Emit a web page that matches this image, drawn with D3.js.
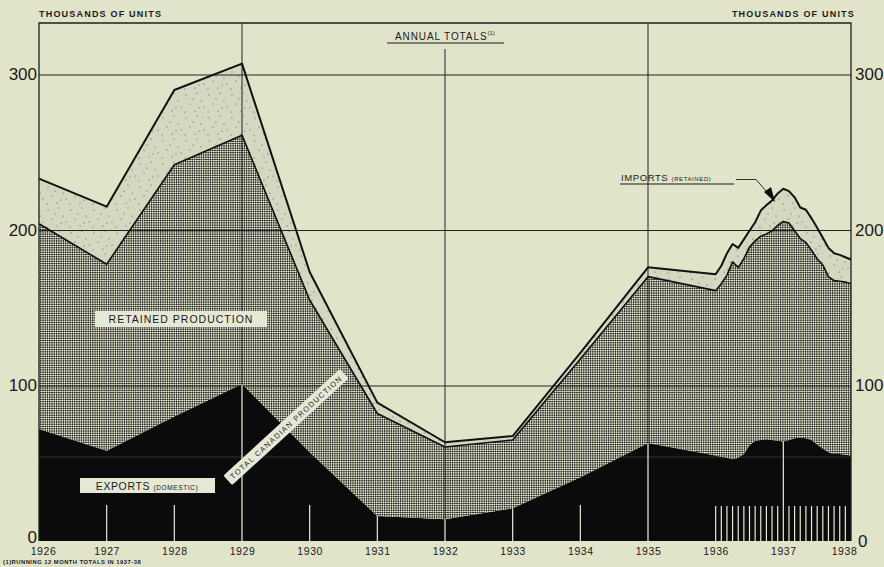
<!DOCTYPE html>
<html>
<head>
<meta charset="utf-8">
<script src="https://cdn.jsdelivr.net/npm/d3@7"></script>
<style>
  body { margin: 0; background: #e2e4c9; }
  svg { display: block; font-family: "Liberation Sans", Arial, sans-serif; }
</style>
</head>
<body>
<svg id="chart" width="884" height="567"></svg>
<script>
// annual totals 1926-1935 (thousands of units)
const annualYears = [1926, 1927, 1928, 1929, 1930, 1931, 1932, 1933, 1934, 1935];
const annualExports = [72, 58, 80, 101, 57, 16, 14, 21, 41, 63];
const annualRetained = [132, 120, 162, 160, 98, 66, 46.5, 44, 76, 107];
const annualImports = [29, 37, 48, 46, 18, 7, 3, 2.5, 4, 6];

// running 12 month totals, Jan 1936 - Jan 1938
const monthlyExports = [55, 54, 53.5, 52.5, 53.5, 56, 61.5, 64.5, 65, 65.5, 65, 64.5, 64,
  65, 66, 66.5, 66, 65, 62, 59.5, 57, 56, 56, 55.5, 55];
const monthlyRetained = [106, 111.5, 117.5, 127, 122.5, 125.5, 127.5, 128.5, 131, 132, 134.5, 138.5, 141.5,
  139.5, 133.5, 128, 126, 122, 119.5, 118, 113, 111.5, 111, 111, 110.5];
const monthlyImports = [10.5, 11.5, 14, 11.5, 12.5, 12.5, 10.5, 12, 16.5, 18.5, 19.5, 20.5, 21,
  20.5, 21.5, 20, 21, 20.5, 20, 17.5, 18.5, 17.5, 17, 16, 15.5];

const yearTicks = d3.range(1926, 1939);
const valueTicks = [0, 100, 200, 300];

const monthlyDates = monthlyExports.map((_, i) => 1936 + i / 12);

const rows = annualYears.map((yr, i) => ({
  date: yr, exports: annualExports[i], retained: annualRetained[i], imports: annualImports[i]
})).concat(monthlyDates.map((dt, i) => ({
  date: dt, exports: monthlyExports[i], retained: monthlyRetained[i], imports: monthlyImports[i]
})));

const keys = ["exports", "retained", "imports"];
const stacked = d3.stack().keys(keys)(rows);

const x = d3.scaleLinear().domain([1926, 1938]).range([39, 851]);
const y = d3.scaleLinear().domain([0, 300]).range([541, 74.5]);

const svg = d3.select("#chart");
const defs = svg.append("defs");

// fine diamond cross-hatch for retained production
const hatch = defs.append("pattern")
  .attr("id", "hatch")
  .attr("patternUnits", "userSpaceOnUse")
  .attr("width", 3.2).attr("height", 3.2)
  .attr("patternTransform", "rotate(45)");
hatch.append("rect").attr("width", 3.2).attr("height", 3.2).attr("fill", "#dfe1cc");
hatch.append("rect").attr("width", 1.55).attr("height", 1.55).attr("fill", "#262722");
hatch.append("rect").attr("x", 1.6).attr("y", 1.6).attr("width", 1.55).attr("height", 1.55).attr("fill", "#262722");

// stipple for imports
const dots = [[2, 3], [13, 1], [17, 9], [6, 12], [11, 19], [1, 20], [9, 7], [20, 15], [15, 16]];
const stip = defs.append("pattern")
  .attr("id", "stipple")
  .attr("patternUnits", "userSpaceOnUse")
  .attr("width", 23).attr("height", 23);
stip.append("rect").attr("width", 23).attr("height", 23).attr("fill", "#d5d8c0");
stip.selectAll("circle").data(dots).join("circle")
  .attr("cx", d => d[0]).attr("cy", d => d[1]).attr("r", 0.6)
  .attr("fill", "#4f5146");

const area = d3.area()
  .x(d => x(d.data.date))
  .y0(d => y(d[0]))
  .y1(d => y(d[1]));

const fills = { exports: "#0b0b0b", retained: "url(#hatch)", imports: "url(#stipple)" };

svg.append("g")
  .selectAll("path")
  .data(stacked)
  .join("path")
  .attr("d", area)
  .attr("fill", d => fills[d.key]);

defs.append("clipPath").attr("id", "expClip")
  .append("path").attr("d", area(stacked[0]));

// horizontal grid
svg.append("g")
  .attr("transform", `translate(${x(1926)},0)`)
  .call(d3.axisLeft(y).tickValues([100, 200, 300]).tickSize(-(x(1938) - x(1926))).tickFormat(""))
  .call(g => g.select(".domain").remove())
  .selectAll("line").attr("stroke", "#23241f").attr("stroke-width", 1);

// vertical grid
const grid = svg.append("g").attr("stroke", "#23241f").attr("stroke-width", 1);
[1929, 1935].forEach(yr => {
  grid.append("line").attr("x1", x(yr)).attr("x2", x(yr)).attr("y1", 23).attr("y2", y(0));
});
grid.append("line").attr("x1", x(1932)).attr("x2", x(1932)).attr("y1", 49).attr("y2", y(0));

// outlines
const topLine = d3.line().x(d => x(d.data.date)).y(d => y(d[1]));
svg.append("path").attr("d", topLine(stacked[1]))
  .attr("fill", "none").attr("stroke", "#111").attr("stroke-width", 1.6).attr("stroke-linejoin", "round");
svg.append("path").attr("d", topLine(stacked[2]))
  .attr("fill", "none").attr("stroke", "#111").attr("stroke-width", 2).attr("stroke-linejoin", "round");

// white ticks within the export area
const white = svg.append("g").attr("clip-path", "url(#expClip)")
  .attr("stroke", "#e8eadb").attr("stroke-width", 1.2);
white.append("line").attr("x1", x(1926)).attr("x2", x(1938))
  .attr("y1", y(54)).attr("y2", y(54)).attr("stroke", "#34352f").attr("stroke-width", 1);
yearTicks.slice(1, 10).forEach(yr => {
  white.append("line").attr("x1", x(yr)).attr("x2", x(yr))
    .attr("y1", y(0)).attr("y2", [1929, 1932, 1935].includes(yr) ? 23 : y(0) - 36);
});
monthlyDates.slice(0, 24).forEach(dt => {
  white.append("line").attr("x1", x(dt)).attr("x2", x(dt))
    .attr("y1", y(0)).attr("y2", dt === 1937 ? 23 : y(0) - 35);
});

// frame
svg.append("path")
  .attr("d", `M${x(1926)},${y(0)}V23H${x(1938)}V${y(0)}`)
  .attr("fill", "none").attr("stroke", "#1e1f1a").attr("stroke-width", 1.3);

// value axes
svg.append("g")
  .attr("transform", `translate(${x(1926) - 2},0)`)
  .call(d3.axisLeft(y).tickValues(valueTicks).tickSize(0).tickPadding(0))
  .call(g => g.select(".domain").remove())
  .selectAll("text")
  .attr("font-size", 17).attr("fill", "#1a1a1a").attr("font-family", "Liberation Sans Narrow, Liberation Sans, sans-serif")
  .attr("dy", d => d === 0 ? "0.1em" : "0.32em");

svg.append("g")
  .attr("transform", `translate(${x(1938) + 4},0)`)
  .call(d3.axisRight(y).tickValues(valueTicks).tickSize(0).tickPadding(0))
  .call(g => g.select(".domain").remove())
  .selectAll("text")
  .attr("font-size", 17).attr("fill", "#1a1a1a").attr("font-family", "Liberation Sans Narrow, Liberation Sans, sans-serif")
  .attr("dx", d => d === 0 ? 3 : 0)
  .attr("dy", d => d === 0 ? "0.35em" : "0.32em");

// year axis
svg.append("g")
  .attr("transform", `translate(0,${y(0) + 5})`)
  .call(d3.axisBottom(x).tickValues(yearTicks).tickFormat(d3.format("d")).tickSize(0).tickPadding(2))
  .call(g => g.select(".domain").remove())
  .selectAll("text")
  .attr("font-size", 10.5).attr("letter-spacing", 0.6).attr("fill", "#1a1a1a")
  .attr("dx", d => d === 1926 ? 4 : d === 1938 ? -7 : 0);

// titles
svg.append("text").attr("x", 39).attr("y", 17)
  .attr("font-size", 9).attr("font-weight", "bold").attr("letter-spacing", 1.2).attr("fill", "#1a1a1a")
  .text("THOUSANDS OF UNITS");
svg.append("text").attr("x", 855).attr("y", 17).attr("text-anchor", "end")
  .attr("font-size", 9).attr("font-weight", "bold").attr("letter-spacing", 1.2).attr("fill", "#1a1a1a")
  .text("THOUSANDS OF UNITS");

svg.append("text").attr("x", 3).attr("y", 564)
  .attr("font-size", 5.8).attr("font-weight", "bold").attr("letter-spacing", 0.5).attr("fill", "#1a1a1a")
  .text("(1)RUNNING 12 MONTH TOTALS IN 1937-38");

const ann = svg.append("text").attr("x", 395).attr("y", 40)
  .attr("font-size", 10).attr("letter-spacing", 0.9).attr("fill", "#1a1a1a");
ann.append("tspan").text("ANNUAL TOTALS");
ann.append("tspan").attr("font-size", 6).attr("dy", -5).attr("letter-spacing", 0).text("(1)");
svg.append("line").attr("x1", 387).attr("x2", 504).attr("y1", 43).attr("y2", 43)
  .attr("stroke", "#1a1a1a").attr("stroke-width", 1.2);

// retained production label
svg.append("rect").attr("x", 95).attr("y", 311).attr("width", 172).attr("height", 16).attr("fill", "#e6e8d6");
svg.append("text").attr("x", 181).attr("y", 323).attr("text-anchor", "middle")
  .attr("font-size", 10.5).attr("letter-spacing", 1).attr("fill", "#1a1a1a")
  .text("RETAINED PRODUCTION");

// exports label
svg.append("rect").attr("x", 80).attr("y", 478).attr("width", 135).attr("height", 15).attr("fill", "#e6e8d6");
const exl = svg.append("text").attr("x", 147).attr("y", 490).attr("text-anchor", "middle")
  .attr("fill", "#1a1a1a").attr("letter-spacing", 0.6);
exl.append("tspan").attr("font-size", 10.5).text("EXPORTS ");
exl.append("tspan").attr("font-size", 6.5).text("(DOMESTIC)");

// total canadian production label
const tcp = svg.append("g").attr("transform", "translate(286,427) rotate(-42.5)");
tcp.append("rect").attr("x", -79).attr("y", -6.5).attr("width", 158).attr("height", 13)
  .attr("rx", 2).attr("fill", "#e6e8d6");
tcp.append("text").attr("y", 3).attr("text-anchor", "middle")
  .attr("font-size", 7.5).attr("letter-spacing", 1.3).attr("fill", "#1a1a1a")
  .text("TOTAL CANADIAN PRODUCTION");

// imports label with pointer
const imp = svg.append("text").attr("x", 621).attr("y", 181)
  .attr("fill", "#1a1a1a").attr("letter-spacing", 0.6);
imp.append("tspan").attr("font-size", 9.5).text("IMPORTS ");
imp.append("tspan").attr("font-size", 6).text("(RETAINED)");
svg.append("line").attr("x1", 620).attr("x2", 734).attr("y1", 184).attr("y2", 184)
  .attr("stroke", "#1a1a1a").attr("stroke-width", 1);
svg.append("path").attr("d", "M736,179.5H756L767,192")
  .attr("fill", "none").attr("stroke", "#1a1a1a").attr("stroke-width", 0.9);
svg.append("path").attr("d", "M764,192L771,187L775,202Z").attr("fill", "#0b0b0b");
</script>
</body>
</html>
